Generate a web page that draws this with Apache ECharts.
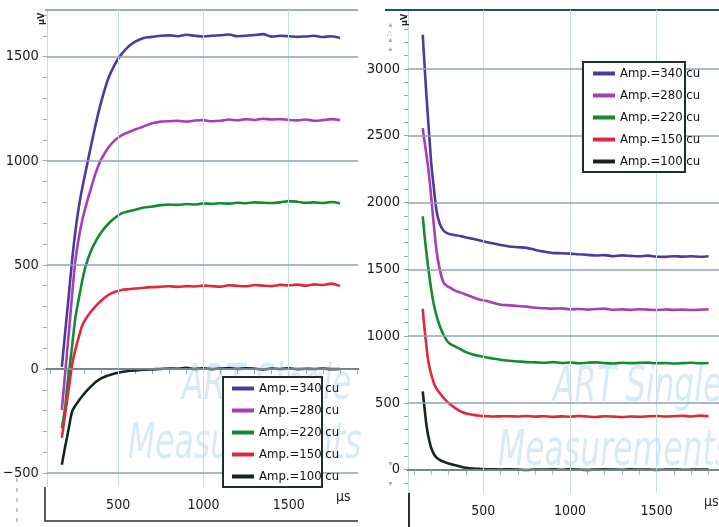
<!DOCTYPE html>
<html>
<head>
<meta charset="utf-8">
<script src="https://cdn.jsdelivr.net/npm/echarts@6/dist/echarts.min.js"></script>
<style>html,body{margin:0;padding:0;background:#fff;}#c{width:719px;height:527px;}</style>
</head>
<body>
<div id="c"></div>
<script>
// ---------- DATA ----------
const seriesNames = ['Amp.=340 cu', 'Amp.=280 cu', 'Amp.=220 cu', 'Amp.=150 cu', 'Amp.=100 cu'];

// Left panel (rising responses), time in µs
const timeLeft = [170,180,190,200,215,230,250,270,290,310,340,370,400,440,480,520,560,600,
  650,700,750,800,850,900,950,1000,1050,1100,1150,1200,1250,1300,1350,1400,1450,1500,1550,1600,1650,1700,1750,1800];
const left340 = [10,95,180,265,390,520,665,780,870,950,1068,1180,1280,1390,1462,1512,1548,1572,
  1590,1595,1600,1602,1598,1605,1600,1597,1600,1603,1606,1598,1600,1604,1608,1596,1600,1598,1595,1597,1600,1594,1598,1590];
const left280 = [-197,-105,-15,75,210,355,525,630,715,780,865,945,1005,1060,1098,1122,1137,1150,
  1165,1180,1188,1190,1192,1188,1193,1195,1190,1192,1198,1194,1200,1196,1202,1198,1200,1196,1194,1198,1192,1195,1200,1195];
const left220 = [-285,-235,-180,-95,5,110,250,340,425,495,565,615,655,695,725,747,757,765,
  775,780,787,790,788,792,790,795,793,796,794,798,796,800,798,797,800,806,803,798,800,797,802,795];
const left150 = [-331,-272,-213,-155,-67,20,95,155,210,240,275,303,328,354,370,379,383,386,
  390,393,395,397,394,398,396,400,398,395,402,399,397,403,400,398,404,401,405,400,406,403,410,398];
const left100 = [-460,-415,-370,-330,-265,-205,-175,-152,-130,-110,-85,-62,-45,-32,-22,-15,-10,-7,
  -4,-2,0,2,1,5,0,3,-1,2,4,0,3,1,-2,2,0,3,-1,1,0,2,-1,0];

// Right panel (decaying responses), time in µs
const timeRight = [150,160,170,180,190,200,215,230,250,270,290,310,340,370,400,440,480,520,560,600,
  650,700,750,800,850,900,950,1000,1050,1100,1150,1200,1250,1300,1350,1400,1450,1500,1550,1600,1650,1700,1750,1800];
const right340 = [3256,3040,2830,2640,2460,2280,2100,1935,1835,1790,1770,1762,1755,1748,1738,1728,1715,1703,1693,1682,
  1670,1665,1660,1645,1632,1622,1620,1617,1612,1608,1603,1606,1598,1604,1600,1597,1602,1594,1593,1598,1595,1597,1594,1598];
const right280 = [2557,2460,2370,2275,2160,2025,1820,1635,1490,1400,1375,1360,1338,1325,1310,1290,1272,1262,1248,1235,
  1230,1225,1220,1212,1208,1205,1207,1200,1203,1198,1202,1205,1197,1200,1196,1201,1198,1195,1199,1196,1198,1195,1197,1200];
const right220 = [1896,1760,1640,1530,1430,1340,1230,1150,1070,1010,965,940,920,900,880,862,850,840,830,823,
  815,810,805,803,800,805,798,802,796,800,803,798,795,800,797,799,801,796,798,795,797,800,796,798];
const right150 = [1203,1060,940,830,760,710,645,605,570,538,510,488,458,435,420,410,403,400,398,399,
  400,398,402,397,400,395,399,396,401,398,394,400,397,393,398,396,399,402,398,400,403,398,404,400];
const right100 = [586,465,350,265,205,158,115,90,72,60,50,42,32,22,14,8,5,3,2,1,
  2,0,-3,1,0,3,-1,2,0,-2,1,3,0,-1,2,0,1,-2,0,1,-1,0,1,0];

// Tick / label values
const xTicks = [100,200,300,400,500,600,700,800,900,1000,1100,1200,1300,1400,1500,1600,1700,1800,1900];
const xLabels = [500, 1000, 1500];
const leftYTicks = [-500,-400,-300,-200,-100,0,100,200,300,400,500,600,700,800,900,1000,1100,1200,1300,1400,1500,1600,1700];
const leftYLabels = [-500, 0, 500, 1000, 1500];
const rightYTicks = [-100,0,100,200,300,400,500,600,700,800,900,1000,1100,1200,1300,1400,1500,1600,1700,1800,1900,2000,2100,2200,2300,2400,2500,2600,2700,2800,2900,3000,3100,3200,3300,3400];
const rightYLabels = [0, 500, 1000, 1500, 2000, 2500, 3000];

// ---------- STYLE ----------
const colors = ['#4f389f', '#a43fb6', '#148a32', '#e0283c', '#16261e'];
const FONT = "'Liberation Sans Narrow','DejaVu Sans Condensed',sans-serif";
const vGrid = '#c9dde9';
const hGrid = '#8fa3b0';

const chart = echarts.init(document.getElementById('c'), null, {renderer: 'canvas'});

function pairs(t, v) { return t.map((x, i) => [x, v[i]]); }
const fmt = v => (v < 0 ? '\u2212' + Math.abs(v) : String(v));
const leftData = [left340, left280, left220, left150, left100];
const rightData = [right340, right280, right220, right150, right100];

const series = [];
[0, 1].forEach(g => {
  const yVals = g === 0 ? leftYLabels : rightYLabels;
  series.push({
    type: 'line', xAxisIndex: g, yAxisIndex: g, data: [], z: 1, silent: true,
    markLine: {
      silent: true, symbol: 'none', animation: false, label: {show: false},
      data: xLabels.map(v => ({xAxis: v, lineStyle: {color: vGrid, width: 1, type: 'solid'}}))
        .concat(yVals.map(v => ({yAxis: v, lineStyle: {color: hGrid, width: 1.5, type: 'solid'}})))
    }
  });
  const src = g === 0 ? leftData : rightData;
  const t = g === 0 ? timeLeft : timeRight;
  seriesNames.forEach((n, i) => {
    series.push({
      name: n, type: 'line', xAxisIndex: g, yAxisIndex: g, z: 3,
      data: pairs(t, src[i]), showSymbol: false, symbol: 'none', smooth: 0.3,
      lineStyle: {color: colors[i], width: 2.6}, itemStyle: {color: colors[i]},
      animation: false
    });
  });
});

function xAxisCfg(idx, min, max) {
  return {
    type: 'value', gridIndex: idx, min: min, max: max,
    splitLine: {show: false},
    axisLine: {show: true, lineStyle: {color: '#22302c', width: 2}},
    axisTick: {show: true, customValues: xTicks, length: 5, lineStyle: {color: '#9aa8b0', width: 1}},
    axisLabel: {customValues: xLabels, color: '#1a1a1a', fontSize: 14, fontFamily: FONT, margin: 11, formatter: fmt},
  };
}
function yAxisCfg(idx, min, max, ticks, labels) {
  return {
    type: 'value', gridIndex: idx, min: min, max: max,
    splitLine: {show: false},
    axisLine: {show: true, lineStyle: {color: '#c5d8e4', width: 1}},
    axisTick: {show: true, customValues: ticks, length: 4, lineStyle: {color: '#9aa8b0', width: 1}},
    axisLabel: {customValues: labels, color: '#1a1a1a', fontSize: 14.5, fontFamily: FONT, margin: 8, formatter: fmt},
  };
}

const legendCommon = {
  orient: 'vertical', icon: 'rect', itemWidth: 22, itemHeight: 4, itemGap: 5,
  textStyle: {fontSize: 13, fontFamily: FONT, color: '#111', lineHeight: 17},
  data: seriesNames, z: 20, selectedMode: false, padding: 0
};

const wm = {fill: '#d6ebf6', fontFamily: FONT, fontStyle: 'italic', fontSize: 50, verticalAlign: 'middle'};
function wmText(txt, x, y) {
  return {type: 'text', x: x, y: y, scaleX: 0.7, z: 0, silent: true, style: Object.assign({text: txt}, wm)};
}

chart.setOption({
  animation: false,
  backgroundColor: '#ffffff',
  grid: [
    {left: 45, top: 10, width: 313, height: 477},
    {left: 408, top: 10, width: 311, height: 483}
  ],
  xAxis: [xAxisCfg(0, 82, 1906), xAxisCfg(1, 65, 1860)],
  yAxis: [yAxisCfg(0, -567, 1724, leftYTicks, leftYLabels), yAxisCfg(1, -175, 3441, rightYTicks, rightYLabels)],
  legend: [
    Object.assign({left: 232, top: 380}, legendCommon),
    Object.assign({left: 593, top: 65}, legendCommon)
  ],
  series: series,
  graphic: [
    // watermarks
    wmText('ART Single', 182, 386),
    wmText('Measurements', 128, 445),
    wmText('ART Single', 553, 388),
    wmText('Measurements', 498, 452),
    // legend boxes
    {type: 'rect', z: 10, silent: true, shape: {x: 223, y: 377, width: 99, height: 110},
      style: {fill: '#fff', stroke: '#1e2e2a', lineWidth: 2}},
    {type: 'rect', z: 10, silent: true, shape: {x: 583, y: 62, width: 102, height: 110},
      style: {fill: '#fff', stroke: '#1e2e2a', lineWidth: 2}},
    // top borders
    {type: 'line', z: 5, silent: true, shape: {x1: 45, y1: 10, x2: 358, y2: 10}, style: {stroke: '#7d93a2', lineWidth: 1.5}},
    {type: 'line', z: 5, silent: true, shape: {x1: 385, y1: 10, x2: 719, y2: 10}, style: {stroke: '#1d4e7c', lineWidth: 2}},
    // x-axis boxes
    {type: 'polyline', z: 5, silent: true, shape: {points: [[45, 487], [45, 521], [358, 521]]}, style: {stroke: '#2a3330', lineWidth: 1.6, fill: null}},
    {type: 'line', z: 5, silent: true, shape: {x1: 409, y1: 493, x2: 409, y2: 527}, style: {stroke: '#2a3330', lineWidth: 2}},
    // units
    {type: 'text', z: 5, silent: true, x: 336, y: 490, style: {text: 'µs', fontSize: 14, fontFamily: FONT, fill: '#222'}},
    {type: 'text', z: 5, silent: true, x: 704, y: 495, style: {text: 'µs', fontSize: 14, fontFamily: FONT, fill: '#222'}},
    {type: 'text', z: 5, silent: true, x: 37, y: 25, rotation: Math.PI / 2, style: {text: 'µV', fontSize: 9, fontWeight: 'bold', fontFamily: FONT, fill: '#222'}},
    {type: 'text', z: 5, silent: true, x: 400, y: 26, rotation: Math.PI / 2, style: {text: 'µV', fontSize: 9, fontWeight: 'bold', fontFamily: FONT, fill: '#222'}},
    // small markers on right axis
    {type: 'text', z: 5, silent: true, x: 387, y: 22, style: {text: '\u25B2', fontSize: 7, fill: '#9fb2be'}},
    {type: 'text', z: 5, silent: true, x: 387, y: 30, style: {text: '\u25B3', fontSize: 7, fill: '#9fb2be'}},
    {type: 'text', z: 5, silent: true, x: 387, y: 37, style: {text: '\u25B2', fontSize: 7, fill: '#9fb2be'}},
    {type: 'text', z: 5, silent: true, x: 387, y: 46, style: {text: '\u25B2', fontSize: 7, fill: '#9fb2be'}},
    {type: 'text', z: 5, silent: true, x: 387, y: 461, style: {text: '\u25BC', fontSize: 7, fill: '#9fb2be'}},
    {type: 'text', z: 5, silent: true, x: 387, y: 481, style: {text: '\u25BC', fontSize: 7, fill: '#9fb2be'}},
    // dashed mark at far left
    {type: 'line', z: 5, silent: true, shape: {x1: 17, y1: 478, x2: 17, y2: 527}, style: {stroke: '#8a8a8a', lineWidth: 1, lineDash: [4, 6]}}
  ]
});
</script>
</body>
</html>
